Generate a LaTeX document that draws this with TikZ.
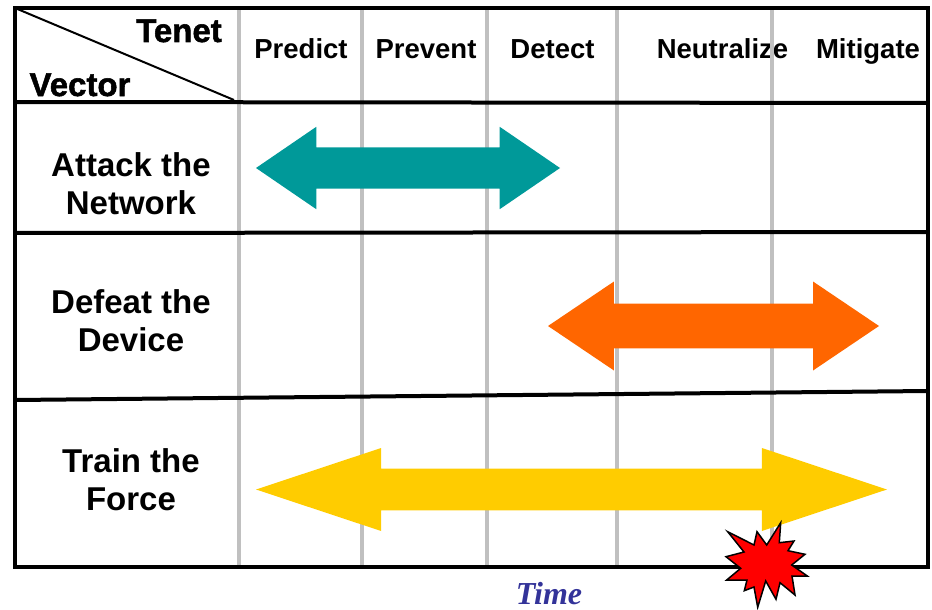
\documentclass[tikz,border=0pt]{standalone}
\usepackage{fontspec}
\setmainfont{Liberation Sans}
\newfontfamily\timefont{Liberation Serif}
\newfontfamily\heavyfont[FakeBold=1.6]{Liberation Sans Bold}
\usepackage{xcolor}
\usetikzlibrary{shapes.arrows}
\definecolor{teal}{HTML}{009999}
\definecolor{orng}{HTML}{FF6600}
\definecolor{gold}{HTML}{FFCC00}
\definecolor{timeblue}{HTML}{333399}
\definecolor{gridgray}{HTML}{C0C0C0}
\tikzstyle{frame}=[
  line width=4pt,black
]
\tikzstyle{gridline}=[
  line width=3.5pt,gridgray
]
\tikzstyle{tenet}=[
  font=\fontsize{27.5}{30}\selectfont\bfseries,inner sep=0pt,anchor=base
]
\tikzstyle{vector}=[
  font=\fontsize{33}{38}\selectfont\bfseries,align=center,inner sep=0pt
]
\tikzstyle{corner}=[
  font=\fontsize{33}{38}\selectfont\heavyfont,inner sep=0pt,anchor=base
]
\tikzstyle{span}=[
  double arrow,double arrow head indent=0pt,inner xsep=0pt,inner ysep=20.5pt,
  outer sep=0pt,double arrow head extend=20.5pt,anchor=center
]
\begin{document}
\begin{tikzpicture}[x=1pt,y=-1pt]
    \useasboundingbox (0,0) rectangle (932,610);
    \node (predict) at (301,59) [tenet] {Predict};
    \node (prevent) at (426,59) [tenet] {Prevent};
    \node (detect) at (552.5,59) [tenet] {Detect};
    \node (neutralize) at (722.5,59) [tenet] {Neutralize};
    \node (mitigate) at (868,59) [tenet] {Mitigate};
    \foreach \x in {239,362,487,617,772} {
      \draw [gridline] (\x,8) -- (\x,567);
    }
    \coordinate (tl) at (15,8);
    \coordinate (tr) at (928,8);
    \coordinate (bl) at (15,567);
    \coordinate (br) at (928,567);
    \coordinate (diag) at (234,100);
    \draw [frame] (tl) -- (tr) -- (br) -- (bl) -- cycle;
    \draw [frame] (15,102) -- (928,103);
    \draw [frame] (15,233) -- (928,232);
    \draw [frame] (15,400) -- (928,391);
    \draw [line width=2pt] (tl) -- (diag);
    \node (head1) at (179,42) [corner] {Tenet};
    \node (head2) at (80,96) [corner] {Vector};
    \node (attack) at (131,184) [vector] {Attack the\\Network};
    \node (defeat) at (131,320.5) [vector] {Defeat the\\Device};
    \node (train) at (131,480) [vector] {Train the\\Force};
    \node (a1) at (408,168) [span,fill=teal,minimum height=304pt,minimum width=82pt,double arrow tip angle=68.7] {};
    \node (a2) at (713.5,326) [span,fill=orng,minimum height=331pt,minimum width=89pt,double arrow tip angle=68] {};
    \node (a3) at (571.5,489.5) [span,fill=gold,minimum height=631pt,minimum width=83pt,double arrow tip angle=36.7] {};
    \draw [line width=1.5pt,fill=red] (727.7,531.7) -- (754,545) -- (757,531.7) -- (766.7,545)
      -- (780.7,522.7) -- (779.3,542.7) -- (794,541) -- (788,550.7) -- (805,554.3)
      -- (791.7,565) -- (807.3,576) -- (792,576) -- (795,595) -- (780,582.7) -- (776,599.3)
      -- (765.7,581) -- (757.7,607.3) -- (754,587) -- (744.3,590.7) -- (747,580) -- (726.7,580)
      -- (740.7,568.3) -- (726,556.7) -- (744,552) -- cycle;
    \node (time) at (549,604) [anchor=base,font=\timefont\fontsize{32}{34}\selectfont\bfseries\itshape,text=timeblue,inner sep=0pt] {Time};
\end{tikzpicture}
\end{document}
